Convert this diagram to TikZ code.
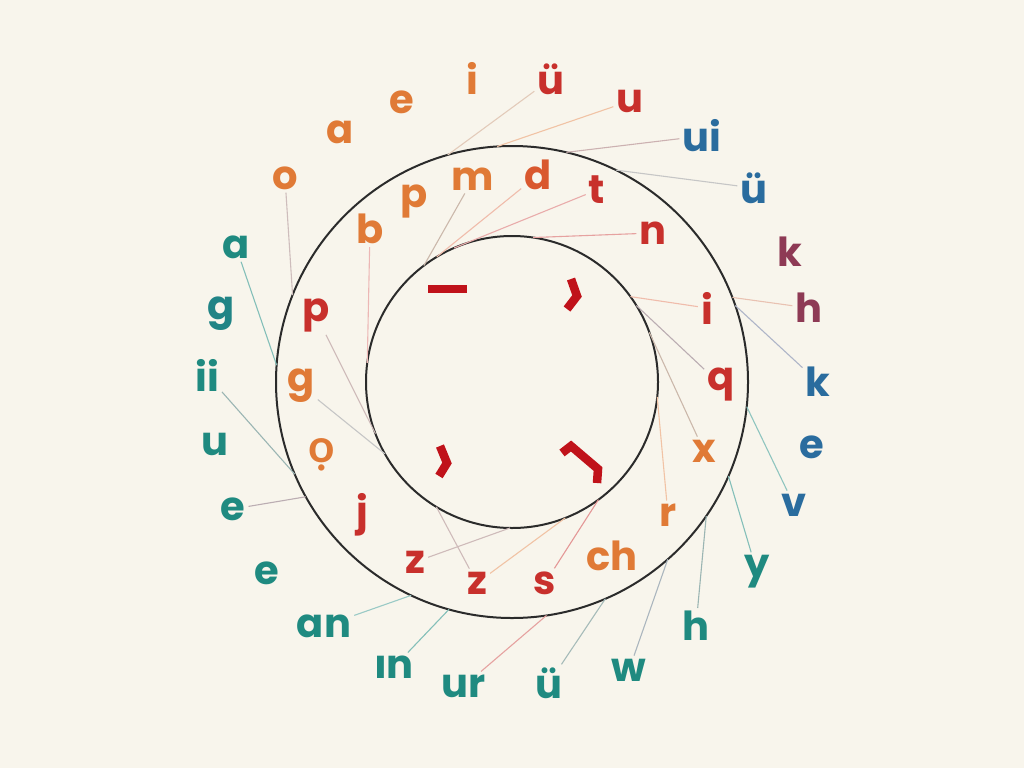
\documentclass[tikz,border=0pt]{standalone}
\usepackage{fontspec}
\setmainfont{Poppins}
\newfontfamily\vnfont{Lato}
\usepackage{tikz}
\usetikzlibrary{calc}

\definecolor{paper}{HTML}{F8F5EC}
\definecolor{ring}{HTML}{2B2B2B}
\definecolor{orng}{HTML}{E07A36}
\definecolor{rust}{HTML}{D9582E}
\definecolor{redd}{HTML}{C8302C}
\definecolor{blu}{HTML}{2A6C9E}
\definecolor{plum}{HTML}{8E3A55}
\definecolor{teal}{HTML}{1F8A80}
\definecolor{tone}{HTML}{C0121A}

\begin{document}
\begin{tikzpicture}[x=1pt, y=-1pt,
  lbl/.style={inner sep=3pt, font=\fontsize{40}{44}\selectfont\bfseries},
  ln/.style={line width=1.1pt, draw=#1},
  tonemark/.style={draw=tone, line width=8.5pt, line join=miter}]
\fill[paper] (0,0) rectangle (1024,768);
\useasboundingbox (0,0) rectangle (1024,768);

% the two rings
\coordinate (c) at (512,382);
\draw[ring, line width=2pt] (c) circle (236pt);
\draw[ring, line width=2pt] (c) circle (146pt);

% tone marks
\draw[tonemark] (428,289) -- (467,289);
\draw[tonemark] (571,279) -- (577,296) -- (567,309);
\draw[tonemark] (440,446) -- (447,463) -- (439,476);
\draw[tonemark] (562,453) -- (571,446) -- (598,469) -- (597,483);

% outer letters
\node[lbl, text=orng] (oI) at (472,78) {i};
\node[lbl, text=redd] (oUe1) at (551,79) {ü};
\node[lbl, text=orng] (oE) at (402,102) {e};
\node[lbl, text=redd] (oU) at (630,101) {u};
\node[lbl, text=orng] (oA) at (340,132) {a};
\node[lbl, text=blu] (oUi) at (702,136) {ui};
\node[lbl, text=orng] (oO) at (285,178) {o};
\node[lbl, text=blu] (oUe2) at (754,188) {ü};
\node[lbl, text=teal] (oAt) at (236,247) {a};
\node[lbl, text=plum] (oK1) at (790,252) {k};
\node[lbl, text=teal!80!blu] (oG) at (221,314) {g};
\node[lbl, text=plum] (oH1) at (809,308) {h};
\node[lbl, text=teal] (oII) at (207,375) {ii};
\node[lbl, text=blu] (oK2) at (818,382) {k};
\node[lbl, text=teal] (oUt) at (215,444) {u};
\node[lbl, text=blu] (oE2) at (812,447) {e};
\node[lbl, text=teal] (oEt1) at (233,509) {e};
\node[lbl, text=blu] (oV) at (794,505) {v};
\node[lbl, text=teal] (oEt2) at (267,573) {e};
\node[lbl, text=teal] (oY) at (757,572) {y};
\node[lbl, text=teal] (oAn) at (324,626) {an};
\node[lbl, text=teal] (oH2) at (696,626) {h};
\node[lbl, text=teal] (oIn) at (394,667) {ın};
\node[lbl, text=teal] (oW) at (629,670) {w};
\node[lbl, text=teal] (oUr) at (464,686) {ur};
\node[lbl, text=teal] (oUe3) at (549,683) {ü};

% letters between the rings
\node[lbl, text=orng] (mB) at (370,229) {b};
\node[lbl, text=orng] (mP) at (414,201) {p};
\node[lbl, text=orng] (mM) at (473,179) {m};
\node[lbl, text=rust] (mD) at (538,175) {d};
\node[lbl, text=redd] (mT) at (597,190) {t};
\node[lbl, text=redd] (mN) at (653,233) {n};
\node[lbl, text=redd] (mP2) at (316,315) {p};
\node[lbl, text=redd] (mI) at (707,308) {i};
\node[lbl, text=orng] (mG) at (301,386) {g};
\node[lbl, text=redd] (mQ) at (721,385) {q};
\node[lbl, text=orng, font=\fontsize{46}{50}\selectfont\vnfont\bfseries] (mO) at (322,455) {ọ};
\node[lbl, text=orng] (mX) at (704,451) {x};
\node[lbl, text=redd] (mJ) at (362,515) {j};
\node[lbl, text=orng] (mR) at (668,515) {r};
\node[lbl, text=redd] (mZ1) at (415,562) {z};
\node[lbl, text=orng] (mCh) at (612,556) {ch};
\node[lbl, text=redd] (mZ2) at (477,583) {z};
\node[lbl, text=redd] (mS) at (545,583) {s};

% points on the outer ring
\coordinate (pUe1) at ($(c)+(-105.8:236)$);
\coordinate (pU) at ($(c)+(-93.6:236)$);
\coordinate (pUi) at ($(c)+(-76.7:236)$);
\coordinate (pUe2) at ($(c)+(-63.9:236)$);
\coordinate (pH1) at ($(c)+(-21:236)$);
\coordinate (pK2) at ($(c)+(-18.9:236)$);
\coordinate (pV) at ($(c)+(6:236)$);
\coordinate (pY) at ($(c)+(23.5:236)$);
\coordinate (pH2) at ($(c)+(34.6:236)$);
\coordinate (pW) at ($(c)+(48.7:236)$);
\coordinate (pUe3) at ($(c)+(66.7:236)$);
\coordinate (pUr) at ($(c)+(81.6:236)$);
\coordinate (pIn) at ($(c)+(105.5:236)$);
\coordinate (pAn) at ($(c)+(115.3:236)$);
\coordinate (pEt1) at ($(c)+(150.9:236)$);
\coordinate (pII) at ($(c)+(157:236)$);
\coordinate (pAt) at ($(c)+(-175.9:236)$);
\coordinate (pO) at ($(c)+(-158.4:236)$);

% points on the inner ring
\coordinate (qB) at ($(c)+(-172.5:146)$);
\coordinate (qM) at ($(c)+(-127.1:146)$);
\coordinate (qD) at ($(c)+(-121:146)$);
\coordinate (qT) at ($(c)+(-113.4:146)$);
\coordinate (qN) at ($(c)+(-81.7:146)$);
\coordinate (qI) at ($(c)+(-35.8:146)$);
\coordinate (qQ) at ($(c)+(-31.6:146)$);
\coordinate (qX) at ($(c)+(-19.9:146)$);
\coordinate (qR) at ($(c)+(5.9:146)$);
\coordinate (qS) at ($(c)+(53.7:146)$);
\coordinate (qZ2) at ($(c)+(68.6:146)$);
\coordinate (qZ1) at ($(c)+(90.8:146)$);
\coordinate (qZ3) at ($(c)+(121.2:146)$);
\coordinate (qP2) at ($(c)+(159.3:146)$);
\coordinate (qG) at ($(c)+(150.5:146)$);

% outer spokes
\draw[ln=gray!40!orng!40] (oUe1) -- (pUe1);
\draw[ln=orng!45] (oU) -- (pU);
\draw[ln=redd!35!gray!50] (oUi) -- (pUi);
\draw[ln=gray!45] (oUe2) -- (pUe2);
\draw[ln=plum!30!orng!40] (oH1) -- (pH1);
\draw[ln=plum!35!blu!45] (oK2) -- (pK2);
\draw[ln=teal!50] (oV) -- (pV);
\draw[ln=teal!55] (oY) -- (pY);
\draw[ln=teal!40!gray!60] (oH2) -- (pH2);
\draw[ln=blu!30!gray!55] (oW) -- (pW);
\draw[ln=teal!35!gray!55] (oUe3) -- (pUe3);
\draw[ln=redd!45] (oUr) -- (pUr);
\draw[ln=teal!55] (oIn) -- (pIn);
\draw[ln=teal!45] (oAn) -- (pAn);
\draw[ln=plum!30!gray!55] (oEt1) -- (pEt1);
\draw[ln=teal!40!gray!60] (oII) -- (pII);
\draw[ln=teal!55] (oAt) -- (pAt);
\draw[ln=redd!25!gray!45] (oO) -- (pO);

% inner spokes
\draw[ln=redd!35] (mB) -- (qB);
\draw[ln=orng!35!gray!55] (mM) -- (qM);
\draw[ln=rust!40] (mD) -- (qD);
\draw[ln=redd!40] (mT) -- (qT);
\draw[ln=redd!45] (mN) -- (qN);
\draw[ln=rust!40] (mI) -- (qI);
\draw[ln=plum!30!gray!55] (mQ) -- (qQ);
\draw[ln=orng!35!gray!55] (mX) -- (qX);
\draw[ln=orng!45] (mR) -- (qR);
\draw[ln=redd!50] (mS) -- (qS);
\draw[ln=orng!45] (mZ2) -- (qZ2);
\draw[ln=redd!30!gray!45] (mZ1) -- (qZ1);
\draw[ln=redd!30!gray!45] (mZ2) -- (qZ3);
\draw[ln=redd!30!gray!45] (mP2) -- (qP2);
\draw[ln=gray!45] (mG) -- (qG);
\end{tikzpicture}
\end{document}
